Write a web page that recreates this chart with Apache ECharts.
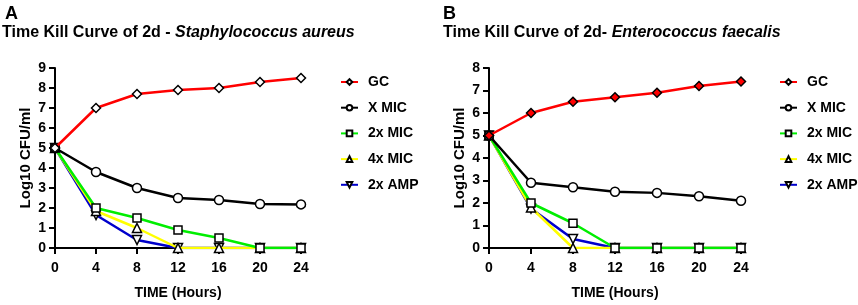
<!DOCTYPE html>
<html><head><meta charset="utf-8">
<script src="https://cdn.jsdelivr.net/npm/echarts@6/dist/echarts.min.js"></script>
<style>html,body{margin:0;padding:0;background:#fff}#c{width:858px;height:305px}</style>
</head><body><div id="c"></div>
<script>
const hours = [0, 4, 8, 12, 16, 20, 24];
const seriesNames = ['GC', 'X MIC', '2x MIC', '4x MIC', '2x AMP'];
// Panel A: Staphylococcus aureus
const aGC    = [5, 7.0, 7.7, 7.9, 8.0, 8.3, 8.5];
const aXMIC  = [5, 3.8, 3.0, 2.5, 2.4, 2.2, 2.18];
const a2xMIC = [5, 2.0, 1.5, 0.9, 0.5, 0, 0];
const a4xMIC = [5, 1.85, 1.0, 0, 0, 0, 0];
const a2xAMP = [5, 1.65, 0.4, 0, 0, 0, 0];
// Panel B: Enterococcus faecalis
const bGC    = [5, 6.0, 6.5, 6.7, 6.9, 7.2, 7.4];
const bXMIC  = [5, 2.9, 2.7, 2.5, 2.45, 2.3, 2.1];
const b2xMIC = [5, 2.0, 1.1, 0, 0, 0, 0];
const b4xMIC = [5, 1.8, 0, 0, 0, 0, 0];
const b2xAMP = [5, 1.75, 0.4, 0, 0, 0, 0];

const colors = ['#ff0000', '#000000', '#00ee00', '#ffff00', '#0000cc'];
const symbols = ['diamond', 'circle', 'rect', 'triangle', 'triangle'];
const rotates = [0, 0, 0, 0, 180];
const sizes = [9, 9, 8, 9, 9];
const zs = [6, 5, 4, 3, 2];
const FONT = 'Arial, "Liberation Sans", sans-serif';

function mk(dataArr, idx, fillGC) {
  return dataArr.map((d, i) => ({
    name: seriesNames[i], type: 'line', xAxisIndex: idx, yAxisIndex: idx,
    data: hours.map((h, k) => [h, d[k]]),
    symbol: symbols[i], symbolRotate: rotates[i], symbolSize: sizes[i],
    z: zs[i],
    lineStyle: { color: colors[i], width: 2.5 },
    itemStyle: { color: (i === 0 && fillGC) ? '#ff0000' : '#ffffff', borderColor: '#000', borderWidth: 1.5 },
    emphasis: { disabled: true }, animation: false
  }));
}

function xAx(idx) {
  return { type: 'value', gridIndex: idx, min: 0, max: 24, interval: 4,
    name: 'TIME (Hours)', nameLocation: 'middle', nameGap: 38,
    nameTextStyle: { fontFamily: FONT, fontWeight: 'bold', fontSize: 14, color: '#000' },
    axisLine: { lineStyle: { color: '#000', width: 2 } },
    axisTick: { show: true, length: 6, lineStyle: { color: '#000', width: 2 } },
    axisLabel: { fontFamily: FONT, fontWeight: 'bold', fontSize: 14, color: '#000', margin: 13 },
    splitLine: { show: false } };
}
function yAx(idx, max) {
  return { type: 'value', gridIndex: idx, min: 0, max: max, interval: 1,
    name: 'Log10 CFU/ml', nameLocation: 'middle', nameGap: 22,
    nameTextStyle: { fontFamily: FONT, fontWeight: 'bold', fontSize: 15, color: '#000' },
    axisLine: { show: true, lineStyle: { color: '#000', width: 2 } },
    axisTick: { show: true, length: 6, lineStyle: { color: '#000', width: 2 } },
    axisLabel: { fontFamily: FONT, fontWeight: 'bold', fontSize: 14, color: '#000', margin: 9 },
    splitLine: { show: false } };
}
function legend(left) {
  return { orient: 'vertical', left: left, top: 69, data: seriesNames,
    itemWidth: 17, itemHeight: 7, itemGap: 9.7, selectedMode: false,
    textStyle: { fontFamily: FONT, fontWeight: 'bold', fontSize: 14, lineHeight: 16, color: '#000', padding: [0, 0, 0, 5] } };
}
const titleRich = {
  b: { fontFamily: FONT, fontWeight: 'bold', fontSize: 16, color: '#000' },
  i: { fontFamily: FONT, fontWeight: 'bold', fontStyle: 'italic', fontSize: 16, color: '#000' }
};
const chart = echarts.init(document.getElementById('c'), null, { renderer: 'canvas' });
chart.setOption({
  animation: false,
  title: [
    { text: 'A', left: 0, top: 0, textStyle: { fontFamily: FONT, fontWeight: 'bold', fontSize: 18, color: '#000' } },
    { text: '{b|Time Kill Curve of 2d - }{i|Staphylococcus aureus}', left: -3, top: 20, textStyle: { rich: titleRich } },
    { text: 'B', left: 438, top: 0, textStyle: { fontFamily: FONT, fontWeight: 'bold', fontSize: 18, color: '#000' } },
    { text: '{b|Time Kill Curve of 2d- }{i|Enterococcus faecalis}', left: 438, top: 20, textStyle: { rich: titleRich } }
  ],
  grid: [
    { left: 55, top: 68, width: 246, height: 182 },
    { left: 489, top: 68, width: 252, height: 181 }
  ],
  xAxis: [xAx(0), xAx(1)],
  yAxis: [yAx(0, 9), yAx(1, 8)],
  legend: [legend(335), legend(774)],
  series: [].concat(
    mk([aGC, aXMIC, a2xMIC, a4xMIC, a2xAMP], 0, false),
    mk([bGC, bXMIC, b2xMIC, b4xMIC, b2xAMP], 1, true)
  )
});
</script></body></html>
